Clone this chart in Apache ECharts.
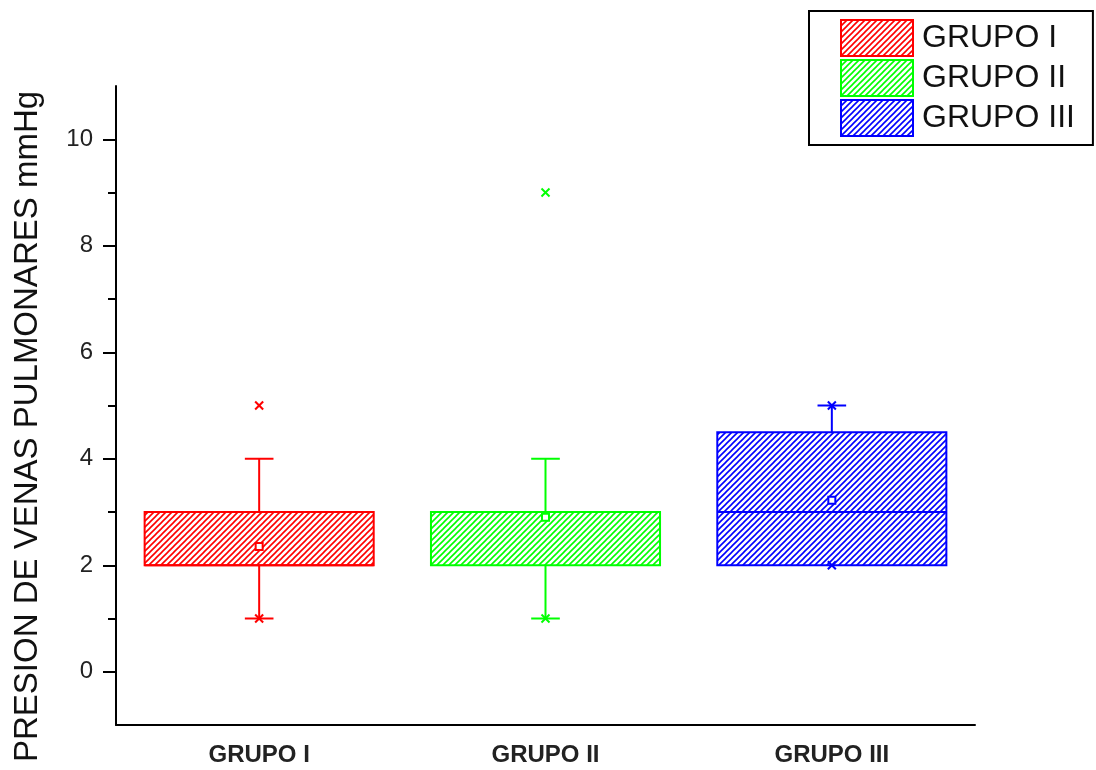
<!DOCTYPE html>
<html>
<head>
<meta charset="utf-8">
<script src="https://cdn.jsdelivr.net/npm/echarts@6/dist/echarts.min.js"></script>
<style>
  html, body { margin: 0; padding: 0; background: #fff; }
  #chart { width: 1096px; height: 770px; }
</style>
</head>
<body>
<div id="chart"></div>
<script>
// ---- data ----
const categories = ['GRUPO I', 'GRUPO II', 'GRUPO III'];
const legendNames = ['GRUPO I', 'GRUPO II', 'GRUPO III'];
const whiskerLow = [1, 1, 2];
const q1 = [2, 2, 2];
const median = [2, 3, 3];
const q3 = [3, 3, 4.5];
const whiskerHigh = [4, 4, 5];
const meanVals = [2.35, 2.9, 3.22];
const minVals = [1, 1, 2];
const maxVals = [5, 9, 5];
const yMajorTicks = [0, 2, 4, 6, 8, 10];
const yMinorTicks = [1, 3, 5, 7, 9];

// ---- style ----
const colors = ['#ff0000', '#00ff00', '#0000ff'];
const FONT = 'Liberation Sans, Arial, sans-serif';

function makeHatch(color) {
  const s = 6;
  const cv = document.createElement('canvas');
  cv.width = s; cv.height = s;
  const ctx = cv.getContext('2d');
  ctx.fillStyle = '#ffffff';
  ctx.fillRect(0, 0, s, s);
  ctx.strokeStyle = color;
  ctx.lineWidth = 1.6;
  ctx.beginPath();
  ctx.moveTo(-1, s + 1); ctx.lineTo(s + 1, -1);
  ctx.moveTo(-1, 1); ctx.lineTo(1, -1);
  ctx.moveTo(s - 1, s + 1); ctx.lineTo(s + 1, s - 1);
  ctx.stroke();
  return { image: cv, repeat: 'repeat' };
}
const patterns = colors.map(makeHatch);

function renderBox(params, api) {
  const idx = params.seriesIndex;
  const col = colors[idx];
  const xv = api.value(0);
  const pt = (v) => api.coord([xv, v]);
  const band = api.size([1, 0])[0];
  const halfBox = band * 0.4;
  const halfCap = band * 0.05;
  const cx = pt(0)[0];
  const yWl = pt(api.value(1))[1];
  const yQ1 = pt(api.value(2))[1];
  const yMed = pt(api.value(3))[1];
  const yQ3 = pt(api.value(4))[1];
  const yWh = pt(api.value(5))[1];
  const yMean = pt(api.value(6))[1];
  const yMin = pt(api.value(7))[1];
  const yMax = pt(api.value(8))[1];
  const ls = { stroke: col, lineWidth: 2, fill: null };
  const children = [];
  if (yWh < yQ3) {
    children.push({ type: 'line', shape: { x1: cx, y1: yQ3, x2: cx, y2: yWh }, style: ls });
    children.push({ type: 'line', shape: { x1: cx - halfCap, y1: yWh, x2: cx + halfCap, y2: yWh }, style: ls });
  }
  if (yWl > yQ1) {
    children.push({ type: 'line', shape: { x1: cx, y1: yQ1, x2: cx, y2: yWl }, style: ls });
    children.push({ type: 'line', shape: { x1: cx - halfCap, y1: yWl, x2: cx + halfCap, y2: yWl }, style: ls });
  }
  children.push({
    type: 'rect',
    shape: { x: cx - halfBox, y: yQ3, width: halfBox * 2, height: yQ1 - yQ3 },
    style: { fill: patterns[idx], stroke: col, lineWidth: 2 }
  });
  children.push({ type: 'line', shape: { x1: cx - halfBox, y1: yMed, x2: cx + halfBox, y2: yMed }, style: ls });
  children.push({ type: 'rect', shape: { x: cx - 3.5, y: yMean - 3.5, width: 7, height: 7 },
    style: { fill: '#ffffff', stroke: col, lineWidth: 2 } });
  [yMin, yMax].forEach(function (yy) {
    const d = 4;
    children.push({ type: 'line', shape: { x1: cx - d, y1: yy - d, x2: cx + d, y2: yy + d }, style: ls });
    children.push({ type: 'line', shape: { x1: cx - d, y1: yy + d, x2: cx + d, y2: yy - d }, style: ls });
  });
  return { type: 'group', children: children };
}

const series = categories.map(function (c, i) {
  return {
    name: legendNames[i],
    type: 'custom',
    renderItem: renderBox,
    itemStyle: { color: patterns[i], borderColor: colors[i], borderWidth: 2 },
    encode: { x: 0, y: [1, 2, 3, 4, 5, 6, 7, 8] },
    data: [[i, whiskerLow[i], q1[i], median[i], q3[i], whiskerHigh[i], meanVals[i], minVals[i], maxVals[i]]],
    z: 2
  };
});

const chart = echarts.init(document.getElementById('chart'), null, { renderer: 'canvas' });
chart.setOption({
  backgroundColor: '#ffffff',
  animation: false,
  textStyle: { fontFamily: FONT },
  grid: { left: 116, right: 121, top: 86, bottom: 45, containLabel: false },
  legend: {
    orient: 'vertical',
    left: 809, top: 11,
    padding: [8, 18, 8, 31],
    itemWidth: 72, itemHeight: 36, itemGap: 2,
    icon: 'rect',
    borderColor: '#000', borderWidth: 2,
    backgroundColor: '#fff',
    selectedMode: false,
    textStyle: { fontSize: 32, lineHeight: 36, color: '#111', fontFamily: FONT, padding: [0, 0, 0, 4] },
    data: legendNames
  },
  xAxis: {
    type: 'category',
    data: categories,
    boundaryGap: true,
    axisLine: { onZero: false, lineStyle: { color: '#000', width: 2 } },
    axisTick: { alignWithLabel: true, length: 8, lineStyle: { color: '#000', width: 2 } },
    axisLabel: { fontSize: 24, fontWeight: 'bold', color: '#222', margin: 18, fontFamily: FONT },
    splitLine: { show: false }
  },
  yAxis: [{
    type: 'value',
    min: -1, max: 11, interval: 1,
    name: 'PRESION DE VENAS PULMONARES mmHg',
    nameLocation: 'middle',
    nameGap: 72,
    nameTextStyle: { fontSize: 33, color: '#111', fontFamily: FONT, padding: [0, 42, 0, 0] },
    axisLine: { show: true, onZero: false, lineStyle: { color: '#000', width: 2 } },
    axisTick: { show: true, length: 13, customValues: yMajorTicks, lineStyle: { color: '#000', width: 2 } },
    axisLabel: { fontSize: 24, color: '#222', margin: 23, customValues: yMajorTicks, fontFamily: FONT },
    splitLine: { show: false }
  }, {
    type: 'value',
    min: -1, max: 11, interval: 1,
    position: 'left',
    axisLine: { show: false, onZero: false },
    axisTick: { show: true, length: 8, customValues: yMinorTicks, lineStyle: { color: '#000', width: 2 } },
    axisLabel: { show: false },
    splitLine: { show: false }
  }],
  series: series
});
</script>
</body>
</html>
